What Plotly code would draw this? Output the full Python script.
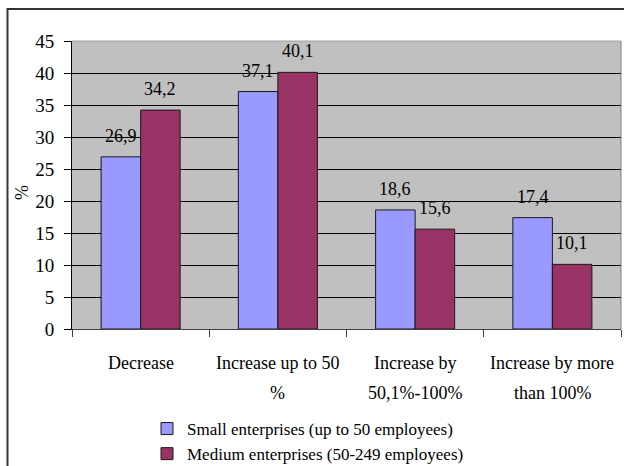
import plotly.graph_objects as go

# Change in turnover, share of enterprises (%)
categories = ["Decrease", "Increase up to 50<br>%", "Increase by<br>50,1%-100%", "Increase by more<br>than 100%"]
series_names = ["Small enterprises (up to 50 employees)", "Medium enterprises (50-249 employees)"]
small_values = [26.9, 37.1, 18.6, 17.4]
medium_values = [34.2, 40.1, 15.6, 10.1]
y_ticks = [0, 5, 10, 15, 20, 25, 30, 35, 40, 45]

colors = ["#9999FF", "#993366"]
font_family = "'Liberation Serif', 'Times New Roman', serif"
bargap = 0.424

W, H = 624, 466
L, R, T, B = 72, 3, 41, 137
pw, ph = W - L - R, H - T - B


def px_x(x):
    return (x - L) / pw


def px_y(y):
    return (H - B - y) / ph


def fmt(v):
    return f"{v:.1f}".replace(".", ",")


fig = go.Figure()
for name, vals, col in zip(series_names, [small_values, medium_values], colors):
    fig.add_trace(go.Bar(
        x=categories, y=vals, name=name,
        marker=dict(color=col, line=dict(color="#1a1a1a", width=1)),
    ))

annotations = []
# value labels above each bar
half = (1 - bargap) / 4
for k, vals in enumerate([small_values, medium_values]):
    off = -half if k == 0 else half
    for i, v in enumerate(vals):
        annotations.append(dict(
            x=i + off, y=v, xref="x", yref="y", text=fmt(v), showarrow=False,
            yanchor="middle", yshift=21,
            font=dict(family=font_family, size=18, color="black"),
        ))

# two-line category labels
for i, cat in enumerate(categories):
    for j, line in enumerate(cat.split("<br>")):
        annotations.append(dict(
            x=i, y=px_y(363 + 30 * j), xref="x", yref="paper", text=line,
            showarrow=False, xanchor="center", yanchor="middle",
            font=dict(family=font_family, size=18, color="black"),
        ))

# y-axis title
annotations.append(dict(
    x=px_x(22), y=px_y(193), xref="paper", yref="paper", text="%",
    showarrow=False, textangle=-90, xanchor="center", yanchor="middle",
    font=dict(family=font_family, size=18, color="black"),
))

shapes = [
    # chart frame
    dict(type="rect", xref="paper", yref="paper",
         x0=px_x(7.5), x1=px_x(700), y0=px_y(700), y1=px_y(9),
         line=dict(color="#333333", width=2), fillcolor="rgba(0,0,0,0)", layer="below"),
    # plot area border (top and right)
    dict(type="line", xref="paper", yref="paper", x0=0, x1=1, y0=1, y1=1,
         line=dict(color="#a0a0a0", width=1), layer="above"),
    dict(type="line", xref="paper", yref="paper", x0=1, x1=1, y0=0, y1=1,
         line=dict(color="#808080", width=1), layer="above"),
]

fig.update_layout(
    width=W, height=H,
    margin=dict(l=L, r=R, t=T, b=B, autoexpand=False),
    paper_bgcolor="white", plot_bgcolor="#C0C0C0",
    barmode="group", bargap=bargap, bargroupgap=0,
    font=dict(family=font_family, size=18, color="black"),
    showlegend=True,
    legend=dict(
        x=px_x(147), y=px_y(411), xanchor="left", yanchor="top",
        font=dict(family=font_family, size=17, color="black"),
        bgcolor="rgba(0,0,0,0)", itemwidth=30, tracegroupgap=0,
    ),
    annotations=annotations,
    shapes=shapes,
)

fig.update_xaxes(
    type="category", showticklabels=False, tickson="boundaries",
    ticks="outside", ticklen=7, tickcolor="#404040",
    showline=True, linecolor="#404040", linewidth=1,
    showgrid=False, zeroline=False,
)
fig.update_yaxes(
    range=[0, 45], tickvals=y_ticks, ticks="outside", ticklen=7, tickcolor="black",
    showline=True, linecolor="black", linewidth=1,
    showgrid=True, gridcolor="black", gridwidth=1, zeroline=False,
    tickfont=dict(family=font_family, size=19, color="black"),
    ticklabelstandoff=6,
)

fig.write_html("out.html")
